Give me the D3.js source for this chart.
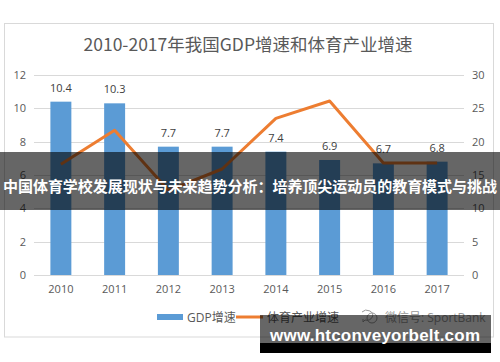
<!DOCTYPE html>
<html>
<head>
<meta charset="utf-8">
<script src="https://cdn.jsdelivr.net/npm/d3@7"></script>
<style>
  body { margin: 0; background: #fff; }
  svg { display: block; }
</style>
</head>
<body>
<div id="container"></div>
<script>
const width = 500;
const height = 362;

// data
const years = ["2010", "2011", "2012", "2013", "2014", "2015", "2016", "2017"];
const gdpGrowth = [10.4, 10.3, 7.7, 7.7, 7.4, 6.9, 6.7, 6.8];
const sportGrowth = [16.6, 21.7, 12.7, 15.9, 23.5, 26.1, 16.8, 16.8];
const leftTicks = [0, 2, 4, 6, 8, 10, 12];
const rightTicks = [0, 5, 10, 15, 20, 25, 30];

const titleText = "2010-2017年我国GDP增速和体育产业增速";
const legendNames = ["GDP增速", "体育产业增速"];
const bannerText = "中国体育学校发展现状与未来趋势分析：培养顶尖运动员的教育模式与挑战";
const footerText = "www.htconveyorbelt.com";
const wechatText = "微信号: SportBank";

const font = "'Open Sans', 'Noto Sans CJK SC', sans-serif";
const cjk = "'Noto Sans CJK SC', sans-serif";
const barColor = "#5B9BD5";
const lineColor = "#ED7D31";
const textColor = "#595959";
const gridColor = "#D9D9D9";

let svg = d3.select("#container")
  .append("svg")
  .attr("width", width)
  .attr("height", height)
  .style("background-color", "white");

// chart frame
svg.append("rect")
  .attr("x", 4.5).attr("y", 23.5)
  .attr("width", 489).attr("height", 313.5)
  .attr("fill", "white")
  .attr("stroke", gridColor);

// title
svg.append("text")
  .attr("x", 248).attr("y", 51)
  .attr("text-anchor", "middle")
  .attr("font-family", cjk)
  .attr("font-size", 17.5)
  .attr("fill", textColor)
  .text(titleText);

// scales
let x = d3.scaleBand().domain(years).range([34, 464]).paddingInner(0.61).paddingOuter(0.305);
let yLeft = d3.scaleLinear().domain([0, 12]).range([275, 75]);
let yRight = d3.scaleLinear().domain([0, 30]).range([275, 75]);

// gridlines
svg.append("g")
  .selectAll("line")
  .data(leftTicks)
  .enter().append("line")
  .attr("x1", 34).attr("x2", 464)
  .attr("y1", d => Math.round(yLeft(d)) + 0.5)
  .attr("y2", d => Math.round(yLeft(d)) + 0.5)
  .attr("stroke", gridColor);

// left axis
let leftAxis = svg.append("g")
  .attr("transform", "translate(34,0)")
  .call(d3.axisLeft(yLeft).tickValues(leftTicks).tickSize(0).tickPadding(8));
leftAxis.select(".domain").remove();
leftAxis.selectAll("text")
  .attr("font-family", font).attr("font-size", 11).attr("fill", textColor);

// right axis
let rightAxis = svg.append("g")
  .attr("transform", "translate(464,0)")
  .call(d3.axisRight(yRight).tickValues(rightTicks).tickSize(0).tickPadding(8));
rightAxis.select(".domain").remove();
rightAxis.selectAll("text")
  .attr("font-family", font).attr("font-size", 11).attr("fill", textColor);

// bottom axis
let bottomAxis = svg.append("g")
  .attr("transform", "translate(0,275)")
  .call(d3.axisBottom(x).tickSize(0).tickPadding(10));
bottomAxis.select(".domain").remove();
bottomAxis.selectAll("text")
  .attr("font-family", font).attr("font-size", 11).attr("fill", textColor);

// bars
svg.append("g")
  .selectAll("rect")
  .data(gdpGrowth)
  .enter().append("rect")
  .attr("x", (d, i) => x(years[i]))
  .attr("y", d => yLeft(d))
  .attr("width", x.bandwidth())
  .attr("height", d => yLeft(0) - yLeft(d))
  .attr("fill", barColor);

// bar labels
svg.append("g")
  .selectAll("text")
  .data(gdpGrowth)
  .enter().append("text")
  .attr("x", (d, i) => x(years[i]) + x.bandwidth() / 2)
  .attr("y", d => yLeft(d) - 10)
  .attr("text-anchor", "middle")
  .attr("font-family", font)
  .attr("font-size", 11)
  .attr("fill", "#404040")
  .text(d => d.toFixed(1));

// sports industry line
let line = d3.line()
  .x((d, i) => x(years[i]) + x.bandwidth() / 2)
  .y(d => yRight(d));

svg.append("path")
  .datum(sportGrowth)
  .attr("d", line)
  .attr("fill", "none")
  .attr("stroke", lineColor)
  .attr("stroke-width", 3)
  .attr("stroke-linejoin", "round");

// legend
let legend = svg.append("g");
legend.append("rect")
  .attr("x", 157).attr("y", 314).attr("width", 26).attr("height", 6)
  .attr("fill", barColor);
legend.append("text")
  .attr("x", 187).attr("y", 321.5)
  .attr("font-family", font).attr("font-size", 12).attr("fill", textColor)
  .text(legendNames[0]);
legend.append("line")
  .attr("x1", 236).attr("x2", 263).attr("y1", 317).attr("y2", 317)
  .attr("stroke", lineColor).attr("stroke-width", 3);
legend.append("text")
  .attr("x", 267).attr("y", 321.5)
  .attr("font-family", font).attr("font-size", 12).attr("fill", textColor)
  .text(legendNames[1]);

// wechat mark
let wx = svg.append("g").attr("fill", "none").attr("stroke", "#999").attr("stroke-width", 1);
wx.append("path").attr("d", "M362,312 a6,5 0 1,1 3,8 l-2,2 l0,-3");
wx.append("circle").attr("cx", 372).attr("cy", 318).attr("r", 5);
svg.append("text")
  .attr("x", 385).attr("y", 321.5)
  .attr("font-family", font).attr("font-size", 12).attr("fill", "#999")
  .text(wechatText);

// middle banner
svg.append("rect")
  .attr("x", 0).attr("y", 152).attr("width", 500).attr("height", 58)
  .attr("fill", "rgba(0,0,0,0.6)");
svg.append("text")
  .attr("x", 250).attr("y", 191.5)
  .attr("text-anchor", "middle")
  .attr("font-family", cjk)
  .attr("font-weight", "bold")
  .attr("font-size", 15)
  .attr("textLength", 494)
  .attr("fill", "white")
  .text(bannerText);

// bottom watermark
svg.append("rect")
  .attr("x", 260).attr("y", 315).attr("width", 231).attr("height", 28)
  .attr("fill", "rgba(0,0,0,0.6)");
svg.append("rect")
  .attr("x", 260).attr("y", 343).attr("width", 231).attr("height", 10)
  .attr("fill", "black");
svg.append("text")
  .attr("x", 270).attr("y", 341)
  .attr("font-family", "'Liberation Sans', sans-serif")
  .attr("font-weight", "bold")
  .attr("font-size", 17)
  .attr("textLength", 210)
  .attr("fill", "white")
  .text(footerText);
</script>
</body>
</html>
